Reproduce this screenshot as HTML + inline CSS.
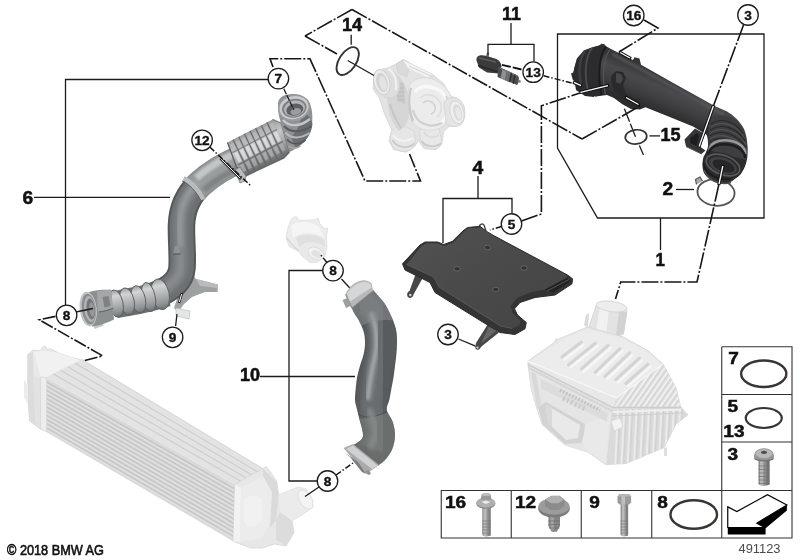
<!DOCTYPE html>
<html><head><meta charset="utf-8"><title>Diagram</title>
<style>
html,body{margin:0;padding:0;background:#fff;}
body{width:800px;height:560px;overflow:hidden;font-family:"Liberation Sans",sans-serif;}
svg{display:block;position:absolute;left:0;top:0;}
svg text{font-family:"Liberation Sans",sans-serif;}
#labels,#table{opacity:.999;}
.ln{fill:none;stroke:#1c1c1c;stroke-width:1.3;}
.dd{fill:none;stroke:#161616;stroke-width:1.6;stroke-dasharray:17 2 2 2;}
.ds{fill:none;stroke:#161616;stroke-width:1.5;stroke-dasharray:6 2 1.5 2;}
.cb{fill:#fff;stroke:#1c1c1c;stroke-width:1.3;}
.ct{font-weight:bold;font-size:13px;text-anchor:middle;fill:#111;stroke:#111;stroke-width:.35;}
.lb{font-weight:bold;font-size:17.5px;fill:#111;stroke:#111;stroke-width:.5;}
.tb{font-weight:bold;font-size:16.5px;fill:#111;stroke:#111;stroke-width:.5;}
.tl{fill:none;stroke:#333;stroke-width:1.1;}
</style></head>
<body>
<svg width="800" height="560" viewBox="0 0 800 560">
<!-- defs -->
<defs>
<linearGradient id="gPlate" x1="0" y1="0" x2="1" y2="1">
<stop offset="0" stop-color="#525253"/><stop offset=".45" stop-color="#4a4a4b"/><stop offset="1" stop-color="#444445"/>
</linearGradient>
<linearGradient id="gPipe1" gradientUnits="userSpaceOnUse" x1="660" y1="75" x2="646" y2="108">
<stop offset="0" stop-color="#353537"/><stop offset=".3" stop-color="#4a4a4d"/><stop offset=".6" stop-color="#404043"/><stop offset="1" stop-color="#2c2c2e"/>
</linearGradient>
<linearGradient id="gRes" gradientUnits="userSpaceOnUse" x1="250" y1="131" x2="266" y2="164">
<stop offset="0" stop-color="#9a9d9e"/><stop offset=".35" stop-color="#c6c8c9"/><stop offset=".7" stop-color="#9da0a1"/><stop offset="1" stop-color="#6d7071"/>
</linearGradient>
<linearGradient id="gBel" gradientUnits="userSpaceOnUse" x1="135" y1="286" x2="142" y2="312">
<stop offset="0" stop-color="#8e9293"/><stop offset=".35" stop-color="#c4c6c7"/><stop offset=".7" stop-color="#9a9e9f"/><stop offset="1" stop-color="#6c7071"/>
</linearGradient>
<radialGradient id="gIC" cx=".3" cy=".3" r=".9">
<stop offset="0" stop-color="#f2f2f2"/><stop offset="1" stop-color="#d9d9d9"/>
</radialGradient>
<filter id="blur1"><feGaussianBlur stdDeviation="1"/></filter>
<filter id="blur2"><feGaussianBlur stdDeviation="2"/></filter>
<filter id="blur05"><feGaussianBlur stdDeviation="0.5"/></filter>
<linearGradient id="gBelR" x1="0" y1="0" x2="0" y2="1">
<stop offset="0" stop-color="#9a9d9e"/><stop offset=".22" stop-color="#d2d4d5"/><stop offset=".5" stop-color="#b4b7b8"/><stop offset=".8" stop-color="#909495"/><stop offset="1" stop-color="#6a6e70"/>
</linearGradient>
</defs>

<!-- light -->
<g id="light">
<g id="intercooler">
<path d="M27.8,354.6 L33,350 L40.5,350.7 L43.5,346.5 L46,346.5 L47,349.5 L50.4,348.7 L58,352.7 L72,357.6 L82,360 L47,378 L47,431 L40.5,429 L29.7,421 L27.8,400 Z" fill="#e9e9e9" stroke="#d4d4d4" stroke-width=".8"/>
<path d="M27.8,354.6 L33,352 L34,395 L37,420 L40.5,429 L29.7,421 L27.8,400 Z" fill="#dcdcdc"/>
<path d="M34,352 L40.5,350.7 L58,352.7 L80,360.3 L46.4,377 L40.5,377 Z" fill="#f1f1f1"/>
<path d="M33.5,376 L40.5,377 L40.5,429 L35,424 Z" fill="#e2e2e2"/>
<path d="M28,385 l-4,-5 l0,18 l4,6z" fill="#ececec"/>
<path d="M46.4,377.5 L82,359.5 L263,468.7 L235.4,484.4 Z" fill="#e3e3e3"/>
<path d="M74.9,363.1 L257.5,471.8" stroke="#cecece" stroke-width="1.2" fill="none"/>
<path d="M67.8,366.7 L252.0,475.0" stroke="#cecece" stroke-width="1.2" fill="none"/>
<path d="M60.6,370.3 L246.4,478.1" stroke="#cecece" stroke-width="1.2" fill="none"/>
<path d="M53.5,373.9 L240.9,481.3" stroke="#cecece" stroke-width="1.2" fill="none"/>
<path d="M82,359.5 L263,468.7" stroke="#d6d6d6" stroke-width="1" fill="none"/>
<path d="M46.4,377.8 L235.4,484.6 L233.5,541.5 L46.4,432 Z" fill="#dadada"/>
<path d="M46.4,382.0 L234.5,489.0" stroke="#c6c6c6" stroke-width="1.5" fill="none"/>
<path d="M46.4,383.6 L234.5,490.6" stroke="#e4e4e4" stroke-width="1" fill="none"/>
<path d="M46.4,386.1 L234.5,493.4" stroke="#c6c6c6" stroke-width="1.5" fill="none"/>
<path d="M46.4,387.7 L234.5,495.0" stroke="#e4e4e4" stroke-width="1" fill="none"/>
<path d="M46.4,390.3 L234.5,497.7" stroke="#c6c6c6" stroke-width="1.5" fill="none"/>
<path d="M46.4,391.9 L234.5,499.3" stroke="#e4e4e4" stroke-width="1" fill="none"/>
<path d="M46.4,394.5 L234.5,502.1" stroke="#c6c6c6" stroke-width="1.5" fill="none"/>
<path d="M46.4,396.1 L234.5,503.7" stroke="#e4e4e4" stroke-width="1" fill="none"/>
<path d="M46.4,398.6 L234.5,506.5" stroke="#c6c6c6" stroke-width="1.5" fill="none"/>
<path d="M46.4,400.2 L234.5,508.1" stroke="#e4e4e4" stroke-width="1" fill="none"/>
<path d="M46.4,402.8 L234.5,510.9" stroke="#c6c6c6" stroke-width="1.5" fill="none"/>
<path d="M46.4,404.4 L234.5,512.5" stroke="#e4e4e4" stroke-width="1" fill="none"/>
<path d="M46.4,407.0 L234.5,515.2" stroke="#c6c6c6" stroke-width="1.5" fill="none"/>
<path d="M46.4,408.6 L234.5,516.8" stroke="#e4e4e4" stroke-width="1" fill="none"/>
<path d="M46.4,411.2 L234.5,519.6" stroke="#c6c6c6" stroke-width="1.5" fill="none"/>
<path d="M46.4,412.8 L234.5,521.2" stroke="#e4e4e4" stroke-width="1" fill="none"/>
<path d="M46.4,415.3 L234.5,524.0" stroke="#c6c6c6" stroke-width="1.5" fill="none"/>
<path d="M46.4,416.9 L234.5,525.6" stroke="#e4e4e4" stroke-width="1" fill="none"/>
<path d="M46.4,419.5 L234.5,528.4" stroke="#c6c6c6" stroke-width="1.5" fill="none"/>
<path d="M46.4,421.1 L234.5,530.0" stroke="#e4e4e4" stroke-width="1" fill="none"/>
<path d="M46.4,423.7 L234.5,532.7" stroke="#c6c6c6" stroke-width="1.5" fill="none"/>
<path d="M46.4,425.3 L234.5,534.3" stroke="#e4e4e4" stroke-width="1" fill="none"/>
<path d="M46.4,427.8 L234.5,537.1" stroke="#c6c6c6" stroke-width="1.5" fill="none"/>
<path d="M46.4,429.4 L234.5,538.7" stroke="#e4e4e4" stroke-width="1" fill="none"/>
<path d="M40.5,377 L46.6,377.6 L46.6,432 L40.5,429 Z" fill="#ededed" stroke="#d2d2d2" stroke-width=".6"/>
<path d="M46.4,377.8 L235.4,484.6" stroke="#e6e6e6" stroke-width="1" fill="none"/>
<path d="M235,484 L263,468.7 L266,466.5 L269,470 L276.6,481.4 L278.6,495 L298,487 L306,489 L312,500 L313,507 L302,515 L292,520.7 L294,532.5 L286,546 L274.7,544 L262,548 L251,548 L233.4,541.5 Z" fill="#e7e7e7" stroke="#d6d6d6" stroke-width=".8"/>
<path d="M235,484.5 L241,488 L240,542 L233.4,541.5 Z" fill="#f2f2f2"/>
<path d="M241,488 L263,476 L272,492 L272,520 L262,538 L240,542 Z" fill="#ececec"/>
<path d="M263,469 L276.6,481.4 L278.6,495 L276,520 L270,528 L272,492 L263,476 Z" fill="#dadada"/>
<path d="M278.6,495 L298,487 L306,489 L312,500 L313,507 L302,515 L292,520.7 L280,512 Z" fill="#ebebeb"/>
<ellipse cx="305.5" cy="499.5" rx="6" ry="10.5" transform="rotate(-32 305.5 499.5)" fill="#f4f4f4" stroke="#dcdcdc" stroke-width=".8"/>
<path d="M280,512 L292,520.7 L294,532.5 L286,546 L276,540 L276,520 Z" fill="#dcdcdc"/>
<path d="M244,500 C250,494 258,494 262,500 L262,520 C256,528 248,528 244,522 Z" fill="#f3f3f3" opacity=".8"/>
</g>
<g id="airbox">
<clipPath id="cpSlope"><path d="M616.5,398 L663,364 L676,388 L680.8,407.5 L613,407.5 Z"/></clipPath>
<clipPath id="cpBaseR"><path d="M612,410 L680,407 L687.8,415 L676,424 L664,447.6 L626,463.5 L606,464.5 Z"/></clipPath>
<path d="M596,306 C596,301 628,304 627,312 L623.5,334 C612,340 594,336 589,327 Z" fill="#e3e3e3" stroke="#d0d0d0" stroke-width=".8"/>
<path d="M600,307 L596,330 L606,335 L609,309 Z" fill="#f1f1f1"/>
<path d="M619,312 L616,336 L623.5,334 L627,312 Z" fill="#d2d2d2"/>
<ellipse cx="611.5" cy="306.5" rx="15.5" ry="5.2" transform="rotate(8 611.5 306.5)" fill="#ededed" stroke="#d2d2d2" stroke-width=".8"/>
<path d="M589,313 l-3,2 l-2,10 l4,3 z" fill="#dadada"/>
<path d="M528,364 L531,388 L537,409 L542.5,425 L565,445 L587.6,452 L605.6,464.5 L626,463.5 L664,447.6 L676,424 L687.8,415 L680,406 L613,407.5 Z" fill="#e2e2e2" stroke="#d2d2d2" stroke-width=".8"/>
<path d="M612,410 L680,407 L687.8,415 L676,424 L664,447.6 L626,463.5 L606,464.5 Z" fill="#dadada"/>
<g clip-path="url(#cpBaseR)">
<path d="M618.0,409 L615.0,470" stroke="#ebebeb" stroke-width="2" fill="none"/>
<path d="M620.2,409 L617.2,470" stroke="#cfcfcf" stroke-width="1" fill="none"/>
<path d="M624.2,409 L621.2,470" stroke="#ebebeb" stroke-width="2" fill="none"/>
<path d="M626.4,409 L623.4,470" stroke="#cfcfcf" stroke-width="1" fill="none"/>
<path d="M630.4,409 L627.4,470" stroke="#ebebeb" stroke-width="2" fill="none"/>
<path d="M632.6,409 L629.6,470" stroke="#cfcfcf" stroke-width="1" fill="none"/>
<path d="M636.6,409 L633.6,470" stroke="#ebebeb" stroke-width="2" fill="none"/>
<path d="M638.8,409 L635.8,470" stroke="#cfcfcf" stroke-width="1" fill="none"/>
<path d="M642.8,409 L639.8,470" stroke="#ebebeb" stroke-width="2" fill="none"/>
<path d="M645.0,409 L642.0,470" stroke="#cfcfcf" stroke-width="1" fill="none"/>
<path d="M649.0,409 L646.0,470" stroke="#ebebeb" stroke-width="2" fill="none"/>
<path d="M651.2,409 L648.2,470" stroke="#cfcfcf" stroke-width="1" fill="none"/>
<path d="M655.2,409 L652.2,470" stroke="#ebebeb" stroke-width="2" fill="none"/>
<path d="M657.4,409 L654.4,470" stroke="#cfcfcf" stroke-width="1" fill="none"/>
<path d="M661.4,409 L658.4,470" stroke="#ebebeb" stroke-width="2" fill="none"/>
<path d="M663.6,409 L660.6,470" stroke="#cfcfcf" stroke-width="1" fill="none"/>
<path d="M667.6,409 L664.6,470" stroke="#ebebeb" stroke-width="2" fill="none"/>
<path d="M669.8,409 L666.8,470" stroke="#cfcfcf" stroke-width="1" fill="none"/>
<path d="M673.8,409 L670.8,470" stroke="#ebebeb" stroke-width="2" fill="none"/>
<path d="M676.0,409 L673.0,470" stroke="#cfcfcf" stroke-width="1" fill="none"/>
<path d="M680.0,409 L677.0,470" stroke="#ebebeb" stroke-width="2" fill="none"/>
<path d="M682.2,409 L679.2,470" stroke="#cfcfcf" stroke-width="1" fill="none"/>
</g>
<path d="M613,412 L681,409.5" stroke="#f0f0f0" stroke-width="2.2" fill="none"/>
<path d="M612,416 L682,413" stroke="#cecece" stroke-width="1" fill="none"/>
<path d="M529,368 L612,411.5 L606,464 L587.6,452 L565,445 L542.5,425 L537,409 L531,388 Z" fill="#e5e5e5"/>
<path d="M538,407 L546,402 L585,424 L584,437 L581,443 L565,444 L542.5,424 Z" fill="#d3d3d3"/>
<path d="M546,405 L580,425 L578,438 L566,440 L548,423 Z" fill="#e9e9e9"/>
<path d="M546,405 L552,409 L552,427 L548,423 Z" fill="#d9d9d9"/>
<path d="M531,372 L536,374 L541,404 L537,408 Z" fill="#d8d8d8"/>
<path d="M586,424 L610,415 L606,464 L587.6,452 L582,442 Z" fill="#e9e9e9"/>
<path d="M611,421 l9,-3 l3,9 l-9,4z" fill="#f3f3f3" stroke="#d4d4d4" stroke-width=".7"/>
<path d="M541,379 L608,413 L607,422 L541,388 Z" fill="#dcdcdc"/>
<path d="M560,390 L600,410" stroke="#c2c2c2" stroke-width="3.4" stroke-dasharray="1.6 1.8" fill="none"/>
<path d="M563,398 L585,409" stroke="#cacaca" stroke-width="5" stroke-dasharray="2 2.4" fill="none"/>
<path d="M528,361 L560,338.4 L587.5,327 L623,336.8 L648.6,351 L663,364 L676,388 L680.8,407.5 L613,407.5 L528,364.5 Z" fill="#e8e8e8" stroke="#d3d3d3" stroke-width=".8"/>
<path d="M531,361 L561,340 L588,329.5 L622,338.5 L647,352.5 L661,364.5 L616.5,397 Z" fill="#ececec"/>
<path d="M616.5,398 L663,364 L676,388 L680.8,407.5 L613,407.5 Z" fill="#dddddd"/>
<g clip-path="url(#cpSlope)">
<path d="M648.0,360.0 L612.0,412.0" stroke="#f0f0f0" stroke-width="2" fill="none"/>
<path d="M650.0,360.0 L614.0,412.0" stroke="#cfcfcf" stroke-width=".9" fill="none"/>
<path d="M653.6,360.0 L617.6,412.0" stroke="#f0f0f0" stroke-width="2" fill="none"/>
<path d="M655.6,360.0 L619.6,412.0" stroke="#cfcfcf" stroke-width=".9" fill="none"/>
<path d="M659.2,360.0 L623.2,412.0" stroke="#f0f0f0" stroke-width="2" fill="none"/>
<path d="M661.2,360.0 L625.2,412.0" stroke="#cfcfcf" stroke-width=".9" fill="none"/>
<path d="M664.8,360.0 L628.8,412.0" stroke="#f0f0f0" stroke-width="2" fill="none"/>
<path d="M666.8,360.0 L630.8,412.0" stroke="#cfcfcf" stroke-width=".9" fill="none"/>
<path d="M670.4,360.0 L634.4,412.0" stroke="#f0f0f0" stroke-width="2" fill="none"/>
<path d="M672.4,360.0 L636.4,412.0" stroke="#cfcfcf" stroke-width=".9" fill="none"/>
<path d="M676.0,360.0 L640.0,412.0" stroke="#f0f0f0" stroke-width="2" fill="none"/>
<path d="M678.0,360.0 L642.0,412.0" stroke="#cfcfcf" stroke-width=".9" fill="none"/>
<path d="M681.6,360.0 L645.6,412.0" stroke="#f0f0f0" stroke-width="2" fill="none"/>
<path d="M683.6,360.0 L647.6,412.0" stroke="#cfcfcf" stroke-width=".9" fill="none"/>
<path d="M687.2,360.0 L651.2,412.0" stroke="#f0f0f0" stroke-width="2" fill="none"/>
<path d="M689.2,360.0 L653.2,412.0" stroke="#cfcfcf" stroke-width=".9" fill="none"/>
<path d="M692.8,360.0 L656.8,412.0" stroke="#f0f0f0" stroke-width="2" fill="none"/>
<path d="M694.8,360.0 L658.8,412.0" stroke="#cfcfcf" stroke-width=".9" fill="none"/>
<path d="M698.4,360.0 L662.4,412.0" stroke="#f0f0f0" stroke-width="2" fill="none"/>
<path d="M700.4,360.0 L664.4,412.0" stroke="#cfcfcf" stroke-width=".9" fill="none"/>
<path d="M704.0,360.0 L668.0,412.0" stroke="#f0f0f0" stroke-width="2" fill="none"/>
<path d="M706.0,360.0 L670.0,412.0" stroke="#cfcfcf" stroke-width=".9" fill="none"/>
<path d="M709.6,360.0 L673.6,412.0" stroke="#f0f0f0" stroke-width="2" fill="none"/>
<path d="M711.6,360.0 L675.6,412.0" stroke="#cfcfcf" stroke-width=".9" fill="none"/>
</g>
<path d="M581.4,342.1 L562.0,357.0" stroke="#d4d4d4" stroke-width="3.2" fill="none" stroke-linecap="round"/>
<path d="M583.6,344.7 L564.2,359.6" stroke="#f6f6f6" stroke-width="2.6" fill="none" stroke-linecap="round"/>
<path d="M595.4,343.2 L568.6,364.7" stroke="#d4d4d4" stroke-width="3.2" fill="none" stroke-linecap="round"/>
<path d="M597.6,345.8 L570.8,367.3" stroke="#f6f6f6" stroke-width="2.6" fill="none" stroke-linecap="round"/>
<path d="M608.2,345.4 L581.4,368.9" stroke="#d4d4d4" stroke-width="3.2" fill="none" stroke-linecap="round"/>
<path d="M610.4,348.0 L583.6,371.5" stroke="#f6f6f6" stroke-width="2.6" fill="none" stroke-linecap="round"/>
<path d="M620.0,348.6 L595.4,372.2" stroke="#d4d4d4" stroke-width="3.2" fill="none" stroke-linecap="round"/>
<path d="M622.2,351.2 L597.6,374.8" stroke="#f6f6f6" stroke-width="2.6" fill="none" stroke-linecap="round"/>
<path d="M629.7,352.9 L605.0,376.4" stroke="#d4d4d4" stroke-width="3.2" fill="none" stroke-linecap="round"/>
<path d="M631.9,355.5 L607.2,379.0" stroke="#f6f6f6" stroke-width="2.6" fill="none" stroke-linecap="round"/>
<path d="M639.3,358.2 L615.7,379.7" stroke="#d4d4d4" stroke-width="3.2" fill="none" stroke-linecap="round"/>
<path d="M641.5,360.8 L617.9,382.3" stroke="#f6f6f6" stroke-width="2.6" fill="none" stroke-linecap="round"/>
<path d="M648.0,364.0 L626.0,383.5" stroke="#d4d4d4" stroke-width="3.2" fill="none" stroke-linecap="round"/>
<path d="M650.2,366.6 L628.2,386.1" stroke="#f6f6f6" stroke-width="2.6" fill="none" stroke-linecap="round"/>
<path d="M553,343 l3,-5 l3,1 l-1,5 z" fill="#e3e3e3"/>
<path d="M528,364.5 L613,407.5 L680.8,407.5" stroke="#cccccc" stroke-width="1.3" fill="none"/>
<path d="M529,368 L612,411" stroke="#d6d6d6" stroke-width="2.2" fill="none"/>
<path d="M528,361 L616.5,398 L663,364" stroke="#f6f6f6" stroke-width="1.4" fill="none"/>
<path d="M664,448 l0,8 l3,0 l0,-9z" fill="#e0e0e0"/>
</g>
<g id="turbo">
<path d="M374,76.4 L383,70 L396,64 L403.4,59.5 L409.6,63 L433,74.6 L443.6,83.6 L450.7,96 L458,98.8 L464,106.8 L463,117.5 L458,125.5 L449,126.4 L443.6,131.8 L441.8,144.3 L436.4,149.6 L424,148.8 L418.6,140.7 L415,146 L406,152.3 L393.6,149.6 L389,140.7 L391.8,130 L384.6,114 L379.3,97.9 L373,89 Z" fill="#e3e3e3" stroke="#d4d4d4" stroke-width=".8" stroke-linejoin="round"/>
<path d="M392,130 C388,138 390,148 400,151 C409,153 415.5,148 415.5,141 L414,131 L400,124 Z" fill="#e6e6e6" stroke="#d2d2d2" stroke-width=".7"/>
<path d="M392.5,140 C396,147 407,150 414.5,143.5" fill="none" stroke="#cbcbcb" stroke-width="1.8"/>
<path d="M393,135 C397,141 406,143 413,138" fill="none" stroke="#f4f4f4" stroke-width="1.8"/>
<path d="M420,130 C419,139 422,146 430,149 C437,150 441.5,146 441.5,140 L439,128 L428,125 Z" fill="#e8e8e8" stroke="#d2d2d2" stroke-width=".7"/>
<path d="M421.5,141 C426,147 435,148 441,143.5" fill="none" stroke="#c9c9c9" stroke-width="1.8"/>
<path d="M424,132 C426,137 434,139 439,135" fill="none" stroke="#d8d8d8" stroke-width="1.4"/>
<path d="M394,72 C402,76 409,90 410,104 C410,118 406,128 399,131 C392,124 388,112 387,98 C386,86 389,76 394,72 Z" fill="#d6d6d6"/>
<path d="M396,80 l8,4 l1,20 l-8,-3 z" fill="#cacaca"/>
<path d="M397,84 h6.5 M397,88 h7 M397.5,92 h7 M397.5,96 h7 M398,100 h7" stroke="#b9b9b9" stroke-width=".9"/>
<path d="M390,104 C393,114 397,122 401,128" fill="none" stroke="#c6c6c6" stroke-width="2"/>
<path d="M410,84 C420,72 442,78 450,94 C456,106 452,120 442,127 C432,133 417,131 412,121 C408,110 406,94 410,84 Z" fill="#ececec" stroke="#d6d6d6" stroke-width=".8"/>
<path d="M415,92 C423,82 440,87 446,98 C450,107 448,116 442,122" fill="none" stroke="#f8f8f8" stroke-width="3.4"/>
<path d="M413,110 C416,124 430,129 442,123" fill="none" stroke="#d0d0d0" stroke-width="2.2"/>
<path d="M420,98 C426,92 436,95 440,102 C443,108 441,114 437,117" fill="none" stroke="#dedede" stroke-width="1.6"/>
<path d="M411,88 C408,98 409,112 413,121" fill="none" stroke="#c9c9c9" stroke-width="2.2"/>
<path d="M423,103 C427,99 433,101 435,106 C436,110 434,113 431,114" fill="none" stroke="#cfcfcf" stroke-width="1.4"/>
<path d="M446,96 C451,104 451,114 446,122" fill="none" stroke="#d0d0d0" stroke-width="1.6"/>
<path d="M396,64 L403.4,59.5 L409.6,63 L407,77 L398,73 Z" fill="#dadada" stroke="#cfcfcf" stroke-width=".6"/>
<path d="M403.5,60.5 L432,74.5 L428,77.5 L408,68 Z" fill="#f3f3f3"/>
<path d="M409,66 L433,77" stroke="#d2d2d2" stroke-width="1" fill="none"/>
<path d="M444,103 C446,96 456,96 461,101 C466,107 466,118 462,123.5 C458,128 450,127.5 446,123 Z" fill="#e4e4e4" stroke="#d2d2d2" stroke-width=".8"/>
<ellipse cx="457" cy="112.3" rx="6.8" ry="11.6" transform="rotate(-14 457 112.3)" fill="#f0f0f0" stroke="#d4d4d4" stroke-width=".9"/>
<ellipse cx="457.6" cy="112.5" rx="4.4" ry="8.6" transform="rotate(-14 457.6 112.5)" fill="#dcdcdc"/>
<ellipse cx="458.4" cy="113" rx="2.6" ry="6" transform="rotate(-14 458.4 113)" fill="#e9e9e9"/>
<path d="M381,69.5 C388,66.5 397,71 399,80 C401,89 398,96 392,98 L384,97 Z" fill="#dedede" stroke="#d2d2d2" stroke-width=".6"/>
<path d="M388,69 C394,72 397,80 396,90" fill="none" stroke="#f2f2f2" stroke-width="2"/>
<ellipse cx="381.8" cy="82.2" rx="8" ry="12.8" transform="rotate(-14 381.8 82.2)" fill="#ebebeb" stroke="#d0d0d0" stroke-width="1"/>
<ellipse cx="382" cy="82.5" rx="5.6" ry="10" transform="rotate(-14 382 82.5)" fill="#d4d4d4"/>
<ellipse cx="383" cy="83.2" rx="3.4" ry="7.4" transform="rotate(-14 383 83.2)" fill="#e4e4e4"/>
</g>
<g id="valve">
<path d="M286,238.6 L287.7,229 L291,219.3 L295.7,216 L300,220.5 L313.4,220 L318.2,218.5 L320,224 L324.7,229 L327.9,228 L326.3,237 L327,246.6 L324.7,256.3 L318.2,262 L310.2,262.7 L302,256.3 L299,251.4 L289.3,246.6 Z" fill="#ececec" stroke="#dddddd" stroke-width=".8" stroke-linejoin="round"/>
<path d="M291,226 C296,220 312,221 320,228 L324,238 C316,232 300,231 293,238 Z" fill="#f5f5f5"/>
<path d="M296,238 C302,232 318,234 324.5,240 L325.5,248 C320,242 306,240 299,247 Z" fill="#e0e0e0"/>
<path d="M299,247 C306,240 320,242 325.5,248 L324,256 L318,261.5 L310.5,262 L302.5,256 Z" fill="#e9e9e9"/>
<ellipse cx="316" cy="253.5" rx="8.6" ry="5.6" transform="rotate(28 316 253.5)" fill="#f3f3f3" stroke="#d8d8d8" stroke-width=".8"/>
<ellipse cx="316.5" cy="254" rx="5.6" ry="3.4" transform="rotate(28 316.5 254)" fill="#e2e2e2"/>
<path d="M287,238 C289,242 293,246 299,251" stroke="#d6d6d6" stroke-width="1.4" fill="none"/>
</g>
</g>

<!-- dark -->
<g id="dark">
<!-- ============ PIPE 6 ============ -->
<g id="pipe6" fill="none" stroke-linecap="butt" stroke-linejoin="round">
<!-- foot bracket -->
<path d="M190,272 L196,279 L218,284.5 L217.5,292 L205,292 L192,297 L184,304 L178,312 L174,308 L178,296 Z" fill="#9da1a2" stroke="none"/>
<path d="M196,279 L218,284.5 L217.5,288 L200,286 Z" fill="#b9bcbd" stroke="none"/>
<path d="M176,308 L190,311 L189,319 L176,316 Z" fill="#e4e5e5" stroke="#b5b7b8" stroke-width=".6"/>
<!-- main tube -->
<path id="p6c" d="M243,158 C228,164 212,173 200,184 C188,195 182,208 181.5,225 C181,240 183,255 182,268 C181,282 168,291 150,297" stroke="#54585a" stroke-width="27.5"/>
<path d="M243,158 C228,164 212,173 200,184 C188,195 182,208 181.5,225 C181,240 183,255 182,268 C181,282 168,291 150,297" stroke="#6c7071" stroke-width="23.5"/>
<path d="M242,156.5 C227,162.5 211,171.5 199,182.5 C187,193.5 180.5,207 180.2,224 C179.8,240 181.5,255 180.5,267.5 C179.5,280 167,289.5 149.5,295.5" stroke="#7d8182" stroke-width="13" filter="url(#blur2)"/>
<path d="M198,182 C186.5,193 180,206 179.8,222 C179.6,232 180,240 180.4,248" stroke="#999d9e" stroke-width="5" filter="url(#blur2)"/>
<path d="M180.3,252 C181,258 181.5,264 180,270 C178,280 168,287 156,292" stroke="#8a8e8f" stroke-width="5" filter="url(#blur2)"/>
<!-- upper lighter section -->
<path d="M243,158 C228,164 212,173 200,184 L193.5,190.5" stroke="#a3a7a8" stroke-width="27.5" opacity=".72"/>
<path d="M246,164.5 C231,170.5 216,179.5 204,190" stroke="#7b7f80" stroke-width="6" filter="url(#blur1)" opacity=".8"/>
<path d="M240,151.5 C225,157.5 209,166.5 196.5,178" stroke="#c6c9ca" stroke-width="7" filter="url(#blur1)" opacity=".95"/>
<!-- band -->
<path d="M183.5,178.5 C190,181 199,190 203,199.5" stroke="#b9bcbd" stroke-width="4.8"/>
<path d="M182,181 C188.5,183.5 197.5,192.5 201.5,202" stroke="#5a5e5f" stroke-width="1"/>
<!-- small bump -->
<path d="M173,254 l2,-8 l3.5,-.5 l2,8.5 z" fill="#8e9293" stroke="none"/><path d="M173,254 l7.5,0" stroke="#4a4e4f" stroke-width="1"/>
</g>
<!-- resonator -->
<g id="reson">
<path d="M227.5,142.5 L272.5,119.4 L281,123 L289.5,152 L284,158 L244.5,176.5 L236.5,167 Z" fill="url(#gRes)"/>
<path d="M234.2,153.4 L237.3,151.7 L241.8,161.2 L238.7,162.8 Z" fill="#e2e3e4" opacity=".75"/>
<path d="M230.0,144.6 L233.2,142.9 L236.2,149.4 L233.1,151.0 Z" fill="#b9bbbc" opacity=".7"/>
<path d="M239.9,165.5 L243.1,163.9 L246.3,170.6 L243.1,172.3 Z" fill="#b4b6b7" opacity=".6"/>
<path d="M239.8,150.4 L242.9,148.8 L247.4,158.2 L244.3,159.9 Z" fill="#e2e3e4" opacity=".75"/>
<path d="M235.6,141.7 L238.8,140.1 L241.8,146.5 L238.7,148.1 Z" fill="#b9bbbc" opacity=".7"/>
<path d="M245.5,162.6 L248.7,160.9 L251.9,167.7 L248.7,169.3 Z" fill="#b4b6b7" opacity=".6"/>
<path d="M245.4,147.5 L248.6,145.9 L253.0,155.3 L249.9,156.9 Z" fill="#e2e3e4" opacity=".75"/>
<path d="M241.3,138.8 L244.4,137.2 L247.4,143.5 L244.3,145.2 Z" fill="#b9bbbc" opacity=".7"/>
<path d="M251.1,159.6 L254.3,158.0 L257.5,164.7 L254.3,166.4 Z" fill="#b4b6b7" opacity=".6"/>
<path d="M251.0,144.6 L254.2,143.0 L258.6,152.4 L255.5,154.0 Z" fill="#e2e3e4" opacity=".75"/>
<path d="M246.9,135.9 L250.0,134.3 L253.1,140.6 L249.9,142.3 Z" fill="#b9bbbc" opacity=".7"/>
<path d="M256.8,156.7 L259.9,155.0 L263.1,161.8 L259.9,163.4 Z" fill="#b4b6b7" opacity=".6"/>
<path d="M256.6,141.7 L259.8,140.1 L264.2,149.4 L261.1,151.1 Z" fill="#e2e3e4" opacity=".75"/>
<path d="M252.5,133.0 L255.7,131.4 L258.7,137.7 L255.5,139.4 Z" fill="#b9bbbc" opacity=".7"/>
<path d="M262.4,153.8 L265.5,152.1 L268.7,158.8 L265.5,160.4 Z" fill="#b4b6b7" opacity=".6"/>
<path d="M262.3,138.8 L265.4,137.2 L269.8,146.5 L266.7,148.1 Z" fill="#e2e3e4" opacity=".75"/>
<path d="M258.1,130.1 L261.3,128.5 L264.3,134.8 L261.1,136.4 Z" fill="#b9bbbc" opacity=".7"/>
<path d="M268.0,150.8 L271.1,149.2 L274.3,155.8 L271.1,157.5 Z" fill="#b4b6b7" opacity=".6"/>
<path d="M267.9,135.9 L271.0,134.2 L275.5,143.6 L272.3,145.2 Z" fill="#e2e3e4" opacity=".75"/>
<path d="M263.8,127.2 L266.9,125.6 L269.9,131.9 L266.8,133.5 Z" fill="#b9bbbc" opacity=".7"/>
<path d="M273.6,147.9 L276.7,146.2 L279.9,152.9 L276.7,154.5 Z" fill="#b4b6b7" opacity=".6"/>
<path d="M273.5,133.0 L276.6,131.3 L281.1,140.6 L277.9,142.3 Z" fill="#e2e3e4" opacity=".75"/>
<path d="M269.4,124.3 L272.5,122.7 L275.5,129.0 L272.4,130.6 Z" fill="#b9bbbc" opacity=".7"/>
<path d="M279.2,144.9 L282.3,143.3 L285.5,149.9 L282.4,151.6 Z" fill="#b4b6b7" opacity=".6"/>
<g stroke="#606364" stroke-width="1.3" opacity=".85">
<path d="M233.1,139.6 L249.1,173.3"/><path d="M238.8,136.7 L254.7,170.4"/><path d="M244.4,133.8 L260.3,167.4"/><path d="M250.0,130.9 L265.9,164.4"/><path d="M255.6,128.1 L271.5,161.5"/><path d="M261.2,125.2 L277.1,158.5"/><path d="M266.9,122.3 L282.7,155.6"/>
</g>
<path d="M232.3,152.6 L277.2,129.4" stroke="#6d7071" stroke-width="1.2" opacity=".75" fill="none"/>
<path d="M238.1,164.8 L282.9,141.3" stroke="#63666a" stroke-width="1.3" opacity=".75" fill="none"/>
<path d="M227.5,142.5 L236.5,167 L244.5,176.5" fill="none" stroke="#5a5d5e" stroke-width="1.3"/>
<path d="M244.5,176.5 L284,158 L289.5,152" fill="none" stroke="#55585a" stroke-width="1.4" opacity=".8"/>
<path d="M272.5,119.4 L281,123 L289.5,152" fill="none" stroke="#6a6d6e" stroke-width="1.2" opacity=".8"/>
</g>
<!-- elbow top connector -->
<g id="elbow">
<path d="M278,106 C277,97 285,93.5 294,94 C303,94.5 310,99 311,107 C313,114 313,124 310,133 C306,142 298,148 289.5,152 L281,123 C279,117 278,112 278,106 Z" fill="#8f9293"/>
<path d="M302,112 C307,114 311.5,118 312.5,124 C311.5,134 305,143 296,148 L291,137 C297,132 301,123 302,112 Z" fill="#6c6f71"/>
<path d="M283,120 C289,127 300,127 310,119" fill="none" stroke="#c4c6c7" stroke-width="2.4"/>
<path d="M284,126 C290,133 301,133 311.5,126" fill="none" stroke="#5a5d5f" stroke-width="2"/>
<path d="M285.5,132.5 C291,139 300,139 309.5,133" fill="none" stroke="#b6b8b9" stroke-width="2"/>
<path d="M287,139.5 C292,145 299,145 305.5,140" fill="none" stroke="#55585a" stroke-width="1.8"/>
<path d="M288.5,146 C292,149 297,149 300.5,146" fill="none" stroke="#a6a8a9" stroke-width="1.6"/>
<ellipse cx="294" cy="108" rx="16" ry="13" transform="rotate(-12 294 108)" fill="#9a9d9e"/>
<ellipse cx="294" cy="107.6" rx="14.6" ry="11.4" transform="rotate(-12 294 107.6)" fill="#c9cbcc"/>
<ellipse cx="294.3" cy="108.2" rx="12.4" ry="9.4" transform="rotate(-12 294.3 108.2)" fill="#7e8183"/>
<ellipse cx="294.5" cy="108.5" rx="10.6" ry="7.8" transform="rotate(-12 294.5 108.5)" fill="#b4b6b7"/>
<ellipse cx="294.8" cy="109.6" rx="8.6" ry="6" transform="rotate(-12 294.8 109.6)" fill="#5d6062"/>
<ellipse cx="295.8" cy="111.5" rx="5.4" ry="3.4" transform="rotate(-12 295.8 111.5)" fill="#9a9d9e"/>
</g>
<!-- clip at 12 -->
<path d="M235,170 l5,-3 l6,9 l-1,5 l-5,2 z" fill="#b9bbbc" stroke="#6d7071" stroke-width=".7"/>
<!-- bellows -->
<g id="bellows">
<path d="M165,280 L170.5,306 C156,311 137,315 118,318 L109,292 C126,288.5 148,284.5 165,280 Z" fill="#6a6e70"/>
<ellipse cx="160.3" cy="294.3" rx="8.8" ry="15.6" transform="rotate(-12 160.3 294.3)" fill="url(#gBelR)" stroke="#5c6062" stroke-width=".9"/>
<ellipse cx="148.6" cy="297" rx="6.6" ry="14.8" transform="rotate(-12 148.6 297)" fill="url(#gBelR)" stroke="#5c6062" stroke-width=".9"/>
<ellipse cx="138.3" cy="299.4" rx="7.1" ry="13.9" transform="rotate(-12 138.3 299.4)" fill="url(#gBelR)" stroke="#5c6062" stroke-width=".9"/>
<ellipse cx="127" cy="301.5" rx="7.2" ry="13.8" transform="rotate(-12 127 301.5)" fill="url(#gBelR)" stroke="#5c6062" stroke-width=".9"/>
<ellipse cx="116" cy="303.6" rx="7" ry="13.8" transform="rotate(-12 116 303.6)" fill="url(#gBelR)" stroke="#5c6062" stroke-width=".9"/>
</g>
<!-- end connector -->
<g id="conn8">
<path d="M92.6,324 l10,-2.5 l1,4 l-9,3.5 z" fill="#c4c6c7"/>
<path d="M89,292 C95,290 104,289.5 111,289.8 L114,319.5 C108,322.5 100,325.5 92,326.5 Z" fill="#8c9091"/>
<path d="M97,291.5 C102,290.5 107,290 111,289.8 L113,308 C108,310 102,311 98,311.5 Z" fill="#a4a7a8"/>
<path d="M102.5,297 l6,-1 l2,10 l-6,1.5 z" fill="#7e8283"/>
<path d="M99,312 C104,311.5 109,310 113.5,308" stroke="#5f6364" stroke-width="1" fill="none"/>
<ellipse cx="88.2" cy="309" rx="8.6" ry="17.3" transform="rotate(-7 88.2 309)" fill="#c1c3c4"/>
<ellipse cx="88.8" cy="309" rx="7" ry="15.4" transform="rotate(-7 88.8 309)" fill="#8a8e8f"/>
<ellipse cx="89.8" cy="309" rx="5.6" ry="13" transform="rotate(-7 89.8 309)" fill="#b0b3b4"/>
<ellipse cx="90.8" cy="309" rx="4.2" ry="10.6" transform="rotate(-7 90.8 309)" fill="#74787a"/>
<ellipse cx="92" cy="309.5" rx="2.6" ry="7.4" transform="rotate(-7 92 309.5)" fill="#94989a"/>
</g>

<!-- ============ HOSE 10 ============ -->
<g id="hose10">
<clipPath id="cpHose"><path d="M352.0,308.5 C352.5,309.5 353.9,312.6 355.0,314.5 C356.1,316.4 357.2,317.2 358.6,320.0 C360.0,322.8 362.5,327.6 363.6,331.4 C364.7,335.2 365.0,339.1 365.0,342.9 C365.0,346.7 364.4,350.5 363.6,354.3 C362.8,358.1 361.1,361.9 360.0,365.7 C358.9,369.5 357.8,373.2 357.1,377.0 C356.4,380.8 356.1,384.8 355.7,388.6 C355.3,392.4 354.9,396.9 355.0,400.0 C355.1,403.1 355.6,403.7 356.4,407.0 C357.2,410.3 358.5,415.7 359.6,420.0 C360.7,424.3 362.4,429.6 362.8,432.8 C363.2,436.0 363.4,437.0 361.8,439.0 C360.2,441.0 354.9,444.0 353.5,445.0 L378.5,465.5 C379.8,464.3 384.0,461.4 386.4,458.5 C388.8,455.6 391.4,451.7 392.8,447.8 C394.2,443.9 395.0,439.3 395.0,435.0 C395.0,430.7 394.2,426.2 392.8,422.0 C391.4,417.8 387.4,413.7 386.8,410.0 C386.2,406.3 388.5,403.6 389.3,400.0 C390.1,396.4 390.7,392.4 391.4,388.6 C392.1,384.8 393.0,380.8 393.6,377.0 C394.2,373.2 394.5,369.5 395.0,365.7 C395.5,361.9 396.1,358.1 396.4,354.3 C396.7,350.5 397.0,346.7 397.0,342.9 C397.0,339.1 397.1,335.2 396.4,331.4 C395.7,327.6 394.6,324.3 392.9,320.0 C391.2,315.7 388.1,309.4 386.0,305.7 C383.9,302.0 382.2,300.6 380.0,298.0 C377.8,295.4 374.2,291.3 373.0,290.0 Z"/></clipPath>
<path d="M352.0,308.5 C352.5,309.5 353.9,312.6 355.0,314.5 C356.1,316.4 357.2,317.2 358.6,320.0 C360.0,322.8 362.5,327.6 363.6,331.4 C364.7,335.2 365.0,339.1 365.0,342.9 C365.0,346.7 364.4,350.5 363.6,354.3 C362.8,358.1 361.1,361.9 360.0,365.7 C358.9,369.5 357.8,373.2 357.1,377.0 C356.4,380.8 356.1,384.8 355.7,388.6 C355.3,392.4 354.9,396.9 355.0,400.0 C355.1,403.1 355.6,403.7 356.4,407.0 C357.2,410.3 358.5,415.7 359.6,420.0 C360.7,424.3 362.4,429.6 362.8,432.8 C363.2,436.0 363.4,437.0 361.8,439.0 C360.2,441.0 354.9,444.0 353.5,445.0 L378.5,465.5 C379.8,464.3 384.0,461.4 386.4,458.5 C388.8,455.6 391.4,451.7 392.8,447.8 C394.2,443.9 395.0,439.3 395.0,435.0 C395.0,430.7 394.2,426.2 392.8,422.0 C391.4,417.8 387.4,413.7 386.8,410.0 C386.2,406.3 388.5,403.6 389.3,400.0 C390.1,396.4 390.7,392.4 391.4,388.6 C392.1,384.8 393.0,380.8 393.6,377.0 C394.2,373.2 394.5,369.5 395.0,365.7 C395.5,361.9 396.1,358.1 396.4,354.3 C396.7,350.5 397.0,346.7 397.0,342.9 C397.0,339.1 397.1,335.2 396.4,331.4 C395.7,327.6 394.6,324.3 392.9,320.0 C391.2,315.7 388.1,309.4 386.0,305.7 C383.9,302.0 382.2,300.6 380.0,298.0 C377.8,295.4 374.2,291.3 373.0,290.0 Z" fill="#55595a"/>
<g clip-path="url(#cpHose)" fill="none">
<path d="M362.5,299.2 C364.7,301.5 372.8,308.1 375.8,313.0 C378.7,317.9 379.1,323.4 380.0,328.4 C380.9,333.4 381.0,338.6 381.0,342.9 C381.0,347.2 380.6,350.5 380.0,354.3 C379.4,358.1 378.3,361.9 377.5,365.7 C376.7,369.5 376.0,373.2 375.4,377.0 C374.7,380.8 374.1,384.8 373.5,388.6 C373.0,392.4 372.5,396.7 372.1,400.0 C371.8,403.3 370.9,405.0 371.6,408.5 C372.3,412.0 375.0,416.8 376.2,421.0 C377.4,425.2 379.4,429.3 378.9,433.9 C378.4,438.5 374.0,446.1 373.0,448.5" stroke="#63676844" stroke-width="30"/>
<path d="M362.5,299.2 C364.7,301.5 372.8,308.1 375.8,313.0 C378.7,317.9 379.1,323.4 380.0,328.4 C380.9,333.4 381.0,338.6 381.0,342.9 C381.0,347.2 380.6,350.5 380.0,354.3 C379.4,358.1 378.3,361.9 377.5,365.7 C376.7,369.5 376.0,373.2 375.4,377.0 C374.7,380.8 374.1,384.8 373.5,388.6 C373.0,392.4 372.5,396.7 372.1,400.0 C371.8,403.3 370.9,405.0 371.6,408.5 C372.3,412.0 375.0,416.8 376.2,421.0 C377.4,425.2 379.4,429.3 378.9,433.9 C378.4,438.5 374.0,446.1 373.0,448.5" stroke="#696d6e" stroke-width="22" filter="url(#blur2)"/>
<path d="M371.2,312.5 C372.0,315.1 374.6,322.9 375.5,327.9 C376.4,332.9 376.5,338.1 376.5,342.4 C376.5,346.7 376.1,350.0 375.5,353.8 C374.9,357.6 373.8,361.4 373.0,365.2 C372.2,369.0 371.5,372.7 370.9,376.5 C370.2,380.3 369.6,384.3 369.0,388.1 C368.5,391.9 367.9,397.6 367.6,399.5" stroke="#8f9394" stroke-width="7" filter="url(#blur2)"/>
<path d="M371.2,312.5 C372.0,315.1 374.6,322.9 375.5,327.9 C376.4,332.9 376.5,338.1 376.5,342.4 C376.5,346.7 376.1,350.0 375.5,353.8 C374.9,357.6 373.8,361.4 373.0,365.2 C372.2,369.0 371.5,372.7 370.9,376.5 C370.2,380.3 369.6,384.3 369.0,388.1 C368.5,391.9 367.9,397.6 367.6,399.5" stroke="#a4a8a9" stroke-width="2.5" filter="url(#blur1)"/>
<!-- upper lighter section -->
<path d="M340,285 L400,285 L400,322 C388,318 372,320 356,328 Z" fill="#8a8e8f" opacity=".5"/>
<!-- lower lighter section -->
<path d="M345,414.5 C360,422.5 378,418.5 400,406.5 L400,480 L340,480 Z" fill="#8a8e8a" opacity=".38"/>
<path d="M357,414 C366,419 378,417 387.5,411" stroke="#4a4e4f" stroke-width="1" opacity=".7"/>
<path d="M368.6,408.5 C369.4,410.6 372.0,416.8 373.2,421.0 C374.4,425.2 376.4,429.3 375.9,433.9 C375.4,438.5 371.0,446.1 370.0,448.5" stroke="#858a8b" stroke-width="6" filter="url(#blur2)"/>
<!-- right edge shadow -->
</g>
<!-- top band -->
<path d="M345.7,294.3 C348,286 358,280 364.5,280.3 C368,280.5 370.5,282 371.6,283.6 L373,290 L372.5,291.6 L352,308.2 Z" fill="#b6b9ba"/>
<path d="M347,294 C350,287 358.5,282 364.5,282 C367.5,282 369.5,283 370.5,284.5 L371.5,287.5 L349.5,302 Z" fill="#d4d6d7"/>
<path d="M345.7,294.3 L352,308.2" stroke="#8e9192" stroke-width="1.4" fill="none"/>
<path d="M352,308.2 L372.5,291.6" stroke="#7c8081" stroke-width="1.2" fill="none"/>
<path d="M342.5,300 l5,-2 l3,8 l-4.5,2 z" fill="#9c9fa0"/>
<!-- bottom clamp -->
<path d="M343.5,448 L353,444 L379,465 L366,474 Z" fill="#a9acad"/>
<path d="M346,449 L353,445.5 L377.5,465.5 L372,469 Z" fill="#cfd1d2"/>
<path d="M344,452 L350,457 L362,472 L366,474 L358,462 Z" fill="#797c7d"/>
<path d="M365,471 l3,4 l3,-1 l-2,-4z" fill="#8d9091"/>
</g>

<!-- ============ PLATE 4 ============ -->
<g id="plate4">
<!-- legs -->
<path d="M416,273 L423,277.5 L413.5,294.5 C413,298 409,299 407.5,296.5 C406.5,294 407.5,291.5 409.5,291 Z" fill="#474749"/>
<circle cx="410.3" cy="295" r="1.2" fill="#d8d8d8"/>
<path d="M487.5,324.7 L499,332.5 L482,346 L479,349.5 C477,350.5 475,349 475.3,347 L476,343 Z" fill="#474749"/>
<path d="M489,326.5 L496,331 L481,343.5 Z" fill="#67676a"/>
<circle cx="477.5" cy="347.6" r="1.1" fill="#d8d8d8"/>
<!-- hook -->
<path d="M479.5,227.5 C479,223.5 484,222.5 484.5,226.5 L486,231 L481,229 Z" fill="none" stroke="#333" stroke-width="1.2"/>
<!-- silhouette (sides) -->
<path d="M467.5,227.5 L480,226.3 L486.3,231.3 L495,236.3 L567.5,275 L572.5,278.8 L572,283.8 L555,295 L535,297.5 L520,302.5 L514.5,308.8 L517.5,315 L526.3,322.5 L525,328.8 L515,334.5 L500,332.5 L487.5,325 L435,292.5 L430,282.5 L405,270 L402.5,263.8 L420,245 L425,242 L437.5,242 L443.8,244.5 L452.5,241.3 L462.5,231.3 Z" fill="#343435" stroke="#2c2c2d" stroke-width="1" stroke-linejoin="round"/>
<!-- top surface -->
<path d="M467.5,228.5 L480,227.3 L495,237 L565.5,274.5 L567.5,277.5 L545,289.5 L530,292.5 L517,298 L510.5,306 L513,313.5 L520.5,320.5 L519.5,325.5 L512,328.5 L500.5,326 L439,287 L433.5,277 L406.5,264.5 L421,246.5 L426,243.3 L437,243.3 L444,246 L453.5,242.5 L463,232.5 Z" fill="url(#gPlate)"/>
<!-- edge highlight front-left -->
<path d="M406.5,264.5 L433.5,277 L439,287 L500.5,326 L512,328.5" fill="none" stroke="#626263" stroke-width="1" opacity=".7"/>
<path d="M545,289.5 L567.5,277.5 L571,281 L553,292.5 Z" fill="#222224"/>
<path d="M547,291 L569,279.5" stroke="#5c5c5e" stroke-width=".9" fill="none"/>
<!-- bosses -->
<g fill="#333334" stroke="#6a6a6b" stroke-width=".9">
<ellipse cx="487.5" cy="247.5" rx="3.2" ry="2.3"/><ellipse cx="457" cy="268.8" rx="3.2" ry="2.3"/><ellipse cx="524" cy="268" rx="3.2" ry="2.3"/><ellipse cx="495.8" cy="289.5" rx="3.2" ry="2.3"/>
</g>
</g>

<!-- ============ PIPE 1 ============ -->
<g id="clamp2"><ellipse cx="716" cy="192.5" rx="18.6" ry="13.2" transform="rotate(6 716 192.5)" fill="none" stroke="#555" stroke-width="1.8"/>
<path d="M696.5,184.5 L695.5,179.5 L700,177 L702.5,181" fill="#aaa" stroke="#555" stroke-width="1.2"/>
</g>
<g id="pipe1">
<!-- bracket tab -->
<path d="M695,128.5 L704,133.5 L700.5,147 L705.5,150.5 L701.5,154 L686,146.5 L684.5,139.5 Z" fill="#353537"/>
<path d="M690,138 L697,133 L699,136 L696.5,146 L690.5,143 Z" fill="#1d1d1f"/>
<path d="M686,146.5 L701.5,154" stroke="#5a5a5c" stroke-width="1" fill="none"/>
<!-- lugs behind cap -->
<path d="M571,73.5 l5,-2 l4,3 l-1,5 l-6,1 z" fill="#2e2e30"/>
<path d="M575,84 l6,-1 l10,5 l5,6 l-2,3 l-9,-1 l-9,-6 z" fill="#29292b"/>
<!-- body silhouette -->
<path d="M574.3,68 L577,58.5 L584,50.5 L592,47.5 L600,45.2 L601,43.8 L604,44 L606.5,46.5 L611,49 L620,53.6 L632.9,60 L634.5,57.3 L639.5,58.5 L641,64.8 L660,75.5 L671,81.7 L706.5,101.5 L714,105.7 L727,111.5 C733,115 740,121 744,129 C747,136 748,146 747.5,155 C747,164 743,172 740,174 C736,179 729,184 722.8,184 C716,184 708,179 704.6,174 C702,170 702,162 703.5,157 C706,152 708.5,148 708,144 C708,140 707.5,137 706.5,134.7 L693.6,126.7 L671,117.6 L645.4,107.3 L640,109.5 L631,109 L622,104 L614,98 L607,95 L595.7,96.4 L590,93.5 L581.4,89.3 L575,83 L572.8,76 Z" fill="url(#gPipe1)"/>
<!-- cap region -->
<path d="M574.3,68 L577,58.5 L584,50.5 L592,47.5 L600,45.2 L606.5,46.5 C599,54 596,74 601,95 L595.7,96.4 L590,93.5 L581.4,89.3 L575,83 L572.8,76 Z" fill="#2c2c2e"/>
<path d="M592,48 C586,56 583.5,72 588,91" fill="none" stroke="#4c4c4e" stroke-width="1.8"/>
<path d="M585,51 C580,58 578,70 581,85" fill="none" stroke="#3e3e40" stroke-width="2.5"/>
<path d="M606,47 C599.5,55 597,75 601.5,95" fill="none" stroke="#1b1b1d" stroke-width="2"/>
<path d="M610,49.5 C603.5,58 601.5,77 605.5,94.5" fill="none" stroke="#555557" stroke-width="1.2"/>
<!-- clip middle -->
<path d="M611,76 l5,-5 l7,1 l3,6 l-3,7 l3,9 l8,5 l6,0 l-1,4 l-8,-1 l-9,-5 l-8,-6 l-3,-10 z" fill="#2a2a2c"/>
<path d="M616,73 l5,1 l2,5 l-3,5 l-4,-2 z" fill="#48484a"/>
<!-- top highlight -->
<path d="M612,54 L640,68.5 L671,85.5 L706,105 L724,114.5" fill="none" stroke="#58585b" stroke-width="3.2" filter="url(#blur1)" opacity=".8"/>
<!-- elbow bellow -->
<path d="M710,119 C720,111 738,116 744,131 C748,142 748,152 746,160 L708,150 C710,140 707,128 710,119 Z" fill="#3e3e40"/>
<g fill="none" stroke="#262628" stroke-width="1.1" opacity=".9">
<path d="M711,124 C721,117 736,121 743,134"/><path d="M710.5,130 C721,123 737,127 745,141"/><path d="M710,136 C720,129 737,133 746.5,148"/><path d="M709.5,142 C719,135 736,139 747,154"/>
</g>
<g fill="none" stroke="#59595c" stroke-width="1" opacity=".9">
<path d="M711,127 C721,120 736.5,124 744,137.5"/><path d="M710.5,133 C720.5,126 737,130 746,144.5"/><path d="M710,139 C719.5,132 736.5,136 747,151"/>
</g>
<!-- light band (upper half of ellipse) -->
<path d="M709.5,151 C709.5,143 718,139.5 728,140.5 C738,141.5 745.5,147 745.5,154" fill="none" stroke="#96989a" stroke-width="2.6"/>
<path d="M708.5,155 C708.5,147 717,143.5 727.5,144.5 C738,145.5 745,151 745,158" fill="none" stroke="#1d1d1f" stroke-width="2.4"/>
<!-- collar + opening -->
<ellipse cx="723.5" cy="165.5" rx="19.5" ry="12" transform="rotate(20 723.5 165.5)" fill="#2b2b2d"/>
<ellipse cx="723" cy="165" rx="17.5" ry="9.6" transform="rotate(20 723 165)" fill="none" stroke="#5a5a5d" stroke-width="1.6"/>
<ellipse cx="723" cy="165.5" rx="14.5" ry="7.6" transform="rotate(20 723 165.5)" fill="#414144"/>
<ellipse cx="723.5" cy="166" rx="11.5" ry="5.6" transform="rotate(20 723.5 166)" fill="#262628"/>
<path d="M704,170 C707,179 719,186 731,182.5" fill="none" stroke="#4e4e51" stroke-width="1.5"/>
<path d="M703.5,163 C704,172 716,181 730,179" fill="none" stroke="#19191b" stroke-width="1.5"/>
</g>

<!-- ============ FITTING 11 ============ -->
<g id="fit11">
<path d="M476.5,60.5 C475.8,56 480,54.2 486,55.8 L496.5,59 C499.5,60.5 501.5,63.5 501.5,66.5 L499,73.5 L487,72.5 L479,67.5 Z" fill="#3b3b3d"/>
<path d="M479,58 L496,62" stroke="#5e5e61" stroke-width="1.6" fill="none"/>
<path d="M478,65.5 L498,72" stroke="#29292b" stroke-width="1.4" fill="none"/>
<path d="M498,66.5 L517.5,75.5 C519.5,77 519.5,82 517,85 L497.5,77 Z" fill="#4c4d4f"/>
<path d="M502.5,68.8 L507,70.8 L505,80.2 L500.5,78.4 Z" fill="#8f9092"/>
<path d="M507,70.8 L510.5,72.4 L508.5,81.8 L505,80.2 Z" fill="#6e6f71"/>
<path d="M500,68 L517,76" stroke="#707173" stroke-width="1.2" fill="none"/>
<path d="M511.5,73 L509.5,82.2 M515,74.5 L513.2,83.6" stroke="#2d2d2f" stroke-width="1.3" fill="none"/>
<path d="M518.2,79.5 l2.6,1 l-.5,2.4 l-2.6,-1 z" fill="#7c7c7e"/>
<path d="M486.8,52.8 l2.4,.5 l-.5,3.6 l-2.4,-.5z" fill="#555557"/>
</g>
</g>

<!-- lines -->
<g id="lines">
<!-- solid brackets / leaders -->
<path class="ln" d="M268,79.5 H65.5 V305"/>
<path class="ln" d="M34,197.3 H170"/>
<path class="ln" d="M323,270.5 H289 V481 H317.5"/>
<path class="ln" d="M260,376.5 H355"/>
<path class="ln" d="M478,176 V198.5 M443,243 V198.5 H512 V213.5"/>
<path class="ln" d="M511,23 V44.3 M488,54 V44.3 H534 V61.5"/>
<path class="ln" d="M557.5,34 H764 V218 H597.5 L557.5,148 Z"/>
<path class="ln" d="M660.5,218 V250"/>
<path class="ln" d="M649.4,135.9 H660"/>
<path class="ln" d="M676,189.5 H694"/>
<path class="ln" d="M351.2,34.8 V44.8"/>
<path class="ln" d="M175.6,326 L177,314"/>
<path class="ln" d="M76,312 L93,308.5"/>
<path class="ln" d="M458.5,339 L475.5,346.2"/>
<path class="ln" d="M341.5,279 L349.6,287.8"/>
<path class="ln" d="M319,487 L305,496.5"/>
<path class="ln" d="M521.5,69.5 L501,64.6" style="stroke-dasharray:9 2;stroke-width:1.8;stroke:#111"/>
<!-- dash-dot lines -->
<path class="dd" d="M352,9.5 L582,139"/>
<path class="dd" d="M582,139 L640.6,105.6"/>
<path class="dd" d="M352,9.5 L305,36"/>
<path class="dd" d="M305,36 L337,54"/><path class="ln" d="M347.7,60.5 L374,75.5"/>
<path class="dd" d="M273,67 L270,58.8 H310 L365,181 H420.5 L409.5,154"/>
<path class="dd" d="M521.5,221 L541.4,214 V105.8 L580,93"/>
<path class="ds" d="M543.5,75.8 L575,83.8"/>
<path class="dd" d="M644,20 L658,28 L619,52"/>
<path class="dd" d="M743.5,25 L713.75,105"/>
<path class="dd" d="M718.75,185 L697,282 H620.75 L615.5,299"/>
<path class="ln" d="M624.4,108.8 L635.6,136.9 M639.4,145.6 L643.5,155" style="stroke-dasharray:14 2"/>
<path class="dd" style="stroke-dasharray:13 2 2 2" d="M55.5,316.4 L39.3,319.8 L102.7,355.9 L84.3,360.7"/>
<path class="ds" d="M209.8,147 L251,186"/>
<path class="ln" d="M283.8,88.8 L293.8,109.8" style="stroke-dasharray:6 1.2"/>
<path class="ds" d="M327,262.5 L320,254"/>
<path class="ds" d="M336,475 L353,463"/>
<path class="ds" d="M501.5,226.5 L490,230"/>
<!-- white screw indicators -->
<g fill="none" stroke-linecap="butt">
<path d="M579.6,92.5 L609,85.4" stroke="#111" stroke-width="3.2"/><path d="M580.5,92.3 L608,85.6" stroke="#fff" stroke-width="1.3"/>
<path d="M625,97 L639.5,105" stroke="#111" stroke-width="3.2"/><path d="M626,97.5 L638.5,104.5" stroke="#fff" stroke-width="1.3"/>
<path d="M573,82 L582,86" stroke="#111" stroke-width="3.2"/><path d="M574,82.4 L581,85.6" stroke="#fff" stroke-width="1.3"/>
<path d="M619,52 L631,58.6" stroke="#111" stroke-width="3.2"/><path d="M620,52.5 L630,58" stroke="#fff" stroke-width="1.3"/>
<path d="M713.75,105 L698.75,147.5" stroke="#111" stroke-width="3.2"/><path d="M713.4,106 L699.1,146.5" stroke="#fff" stroke-width="1.3"/>
<path d="M723,165 L718.75,185" stroke="#111" stroke-width="3.2"/><path d="M722.8,166 L719,184" stroke="#fff" stroke-width="1.3"/>
<path d="M220.5,158.6 L241,179" stroke="#222" stroke-width="2.6"/><path d="M221.3,159.4 L240.2,178.2" stroke="#fff" stroke-width="1"/>
<path d="M179,303 L182,293" stroke="#222" stroke-width="2.6"/><path d="M179.3,302 L181.7,294" stroke="#fff" stroke-width="1"/>
</g>
<!-- rings -->
<ellipse cx="347.7" cy="61.1" rx="8.6" ry="15.6" transform="rotate(33 347.7 61.1)" fill="none" stroke="#333" stroke-width="1.9"/>
<ellipse cx="636" cy="136.9" rx="10.8" ry="7.1" transform="rotate(-6 636 136.9)" fill="none" stroke="#333" stroke-width="1.7"/>
</g>

<!-- labels -->
<g id="labels">
<circle class="cb" cx="278.4" cy="78.6" r="10.25"/><text class="ct" x="278.4" y="83.19999999999999" textLength="7.6" lengthAdjust="spacingAndGlyphs">7</text>
<circle class="cb" cx="202.1" cy="140.3" r="10.25"/><text class="ct" x="202.1" y="144.9" textLength="15.2" lengthAdjust="spacingAndGlyphs">12</text>
<circle class="cb" cx="66.6" cy="315.3" r="10.25"/><text class="ct" x="66.6" y="319.90000000000003" textLength="7.6" lengthAdjust="spacingAndGlyphs">8</text>
<circle class="cb" cx="172.6" cy="337.3" r="10.25"/><text class="ct" x="172.6" y="341.90000000000003" textLength="7.6" lengthAdjust="spacingAndGlyphs">9</text>
<circle class="cb" cx="333" cy="270.6" r="10.25"/><text class="ct" x="333" y="275.20000000000005" textLength="7.6" lengthAdjust="spacingAndGlyphs">8</text>
<circle class="cb" cx="327.5" cy="481" r="10.25"/><text class="ct" x="327.5" y="485.6" textLength="7.6" lengthAdjust="spacingAndGlyphs">8</text>
<circle class="cb" cx="511.5" cy="224" r="10.25"/><text class="ct" x="511.5" y="228.6" textLength="7.6" lengthAdjust="spacingAndGlyphs">5</text>
<circle class="cb" cx="448" cy="334.5" r="10.25"/><text class="ct" x="448" y="339.1" textLength="7.6" lengthAdjust="spacingAndGlyphs">3</text>
<circle class="cb" cx="533.2" cy="72.2" r="10.25"/><text class="ct" x="533.2" y="76.8" textLength="15.2" lengthAdjust="spacingAndGlyphs">13</text>
<circle class="cb" cx="633.75" cy="15.5" r="10.25"/><text class="ct" x="633.75" y="20.1" textLength="15.2" lengthAdjust="spacingAndGlyphs">16</text>
<circle class="cb" cx="748" cy="15" r="10.25"/><text class="ct" x="748" y="19.6" textLength="7.6" lengthAdjust="spacingAndGlyphs">3</text>
<text class="lb" x="22.6" y="204" textLength="10.7" lengthAdjust="spacingAndGlyphs">6</text>
<text class="lb" x="342" y="31.3" textLength="20.1" lengthAdjust="spacingAndGlyphs">14</text>
<text class="lb" x="502" y="20" textLength="18.8" lengthAdjust="spacingAndGlyphs">11</text>
<text class="lb" x="472.5" y="174" textLength="10.7" lengthAdjust="spacingAndGlyphs">4</text>
<text class="lb" x="240" y="381.2" textLength="20.1" lengthAdjust="spacingAndGlyphs">10</text>
<text class="lb" x="660.5" y="141.3" textLength="20.1" lengthAdjust="spacingAndGlyphs">15</text>
<text class="lb" x="662.5" y="195.3" textLength="10.7" lengthAdjust="spacingAndGlyphs">2</text>
<text class="lb" x="655.5" y="265.6" textLength="9.4" lengthAdjust="spacingAndGlyphs">1</text>
<text x="7" y="555" font-size="14.5" fill="#111" textLength="97" lengthAdjust="spacingAndGlyphs" stroke="#111" stroke-width="0.6">© 2018 BMW AG</text>
<text x="738.5" y="553.3" font-size="13.5" fill="#4a4a4a" textLength="42" lengthAdjust="spacingAndGlyphs">491123</text>
</g>

<!-- table -->
<g id="table">
<path class="tl" d="M721.75,346.75 H792 V538 H441.25 V490.5 H792 M721.75,346.75 V538 M721.75,394.5 H792 M721.75,442 H792 M511.25,490.5 V538 M581.25,490.5 V538 M651.75,490.5 V538"/>
<text class="tb" x="728.3" y="364.2" textLength="10.6" lengthAdjust="spacingAndGlyphs">7</text>
<text class="tb" x="727.5" y="412.3" textLength="10.6" lengthAdjust="spacingAndGlyphs">5</text>
<text class="tb" x="723.3" y="437.3" textLength="21.2" lengthAdjust="spacingAndGlyphs">13</text>
<text class="tb" x="727.5" y="460.2" textLength="10.6" lengthAdjust="spacingAndGlyphs">3</text>
<text class="tb" x="445" y="507.8" textLength="21.2" lengthAdjust="spacingAndGlyphs">16</text>
<text class="tb" x="515" y="507.8" textLength="21.2" lengthAdjust="spacingAndGlyphs">12</text>
<text class="tb" x="589.3" y="507.8" textLength="10.6" lengthAdjust="spacingAndGlyphs">9</text>
<text class="tb" x="657.3" y="507.8" textLength="10.6" lengthAdjust="spacingAndGlyphs">8</text>
<!-- rings -->
<ellipse cx="763.75" cy="373.75" rx="22.6" ry="13.3" fill="none" stroke="#3a3533" stroke-width="2.4"/>
<ellipse cx="763.75" cy="418" rx="18" ry="10" fill="none" stroke="#3a3533" stroke-width="2.2"/>
<ellipse cx="693.75" cy="514.5" rx="23.3" ry="14.3" fill="none" stroke="#3a3533" stroke-width="2.4"/>
<!-- arrow -->
<path d="M756.9,523.1 L786.9,505 V510.6 L765.6,528.2 V534.4 H727.75 V527.5 H765 Z" fill="#000"/>
<path d="M727.75,506.9 L736.9,511.5 L767.5,494.75 L786.9,505 L756.9,523.1 L765,527.5 H727.75 Z" fill="#fff" stroke="#000" stroke-width="1.2" stroke-linejoin="miter"/>
<!-- bolt 3 -->
<g>
<path d="M758.5,459 h11 v24.5 c0,3 -11,3 -11,0 z" fill="#8c8c8d"/>
<rect x="760" y="459" width="3.4" height="26" fill="#c6c6c6" opacity=".75"/>
<rect x="766.5" y="459" width="3" height="26" fill="#6c6c6d" opacity=".8"/>
<path d="M758.5,466h11M758.5,469.5h11M758.5,473h11M758.5,476.5h11M758.5,480h11M758.5,483.5h11" stroke="#747475" stroke-width=".9" opacity=".8"/>
<path d="M754,457 C754,451 758.5,448.3 764,448.3 C769.5,448.3 774,451 774,457 C774,462 754,462 754,457 Z" fill="#979798"/>
<ellipse cx="764" cy="453.6" rx="8.4" ry="4.4" fill="#b9b9ba"/>
<ellipse cx="764" cy="452.3" rx="3" ry="1.6" fill="#4e4e4f"/>
<path d="M754.5,458.5 C758,461.5 770,461.5 773.5,458.5" stroke="#6e6e6f" stroke-width="1.2" fill="none"/>
</g>
<!-- bolt 16 -->
<g>
<path d="M482.2,506 h8.5 v28.5 c0,2.6 -8.5,2.6 -8.5,0 z" fill="#979798"/>
<rect x="483.6" y="506" width="2.8" height="30" fill="#c4c4c5" opacity=".75"/>
<rect x="488.4" y="506" width="2.3" height="30" fill="#777778" opacity=".7"/>
<path d="M482.2,521h8.5M482.2,524h8.5M482.2,527h8.5M482.2,530h8.5M482.2,533h8.5" stroke="#7a7a7b" stroke-width=".9" opacity=".8"/>
<ellipse cx="485.8" cy="503.4" rx="9.6" ry="5.4" fill="#8e8e8f"/>
<ellipse cx="485.8" cy="502.6" rx="9.4" ry="4.8" fill="#b0b0b1"/>
<path d="M481.6,494.6 c0,-1.6 9,-1.6 9,0 l1,5.5 h-11 z" fill="#9a9a9b"/>
<ellipse cx="486.1" cy="494.6" rx="4.5" ry="1.5" fill="#bdbdbe"/>
<path d="M481.5,502 l4.3,-1.6 l4.6,1.6 l-4.5,2 z" fill="#e9e9e9"/>
</g>
<!-- bolt 12 -->
<g>
<path d="M548.4,515 h11.6 v11 l-3.2,5.8 h-5.2 l-3.2,-5.8 z" fill="#858586"/>
<path d="M550.6,515 h3.2 v15 h-3.2z" fill="#b2b2b3" opacity=".7"/>
<path d="M548.4,521h11.6M548.4,524.5h11.6M549,528h10.5" stroke="#6e6e6f" stroke-width=".9" opacity=".8"/>
<ellipse cx="554" cy="508.6" rx="15.8" ry="9" fill="#7c7c7d"/>
<ellipse cx="554" cy="506.4" rx="15.6" ry="8.4" fill="#9c9c9d"/>
<path d="M545,499.5 l6.5,-3.8 h8 l5,3.8 v6.4 l-6,4.2 h-7.5 l-6,-4.2 z" fill="#8b8b8c"/>
<path d="M545.3,499.6 l6.3,-3.6 h7.6 l4.8,3.6 l-5.6,3.6 h-7.3 z" fill="#b0b0b1"/>
</g>
<!-- bolt 9 -->
<g>
<path d="M620.5,503 h7.6 v31.5 c0,2.4 -7.6,2.4 -7.6,0 z" fill="#979798"/>
<rect x="622" y="503" width="2.5" height="33" fill="#c6c6c7" opacity=".75"/>
<rect x="626" y="503" width="2.1" height="33" fill="#777778" opacity=".7"/>
<path d="M620.5,521h7.6M620.5,524h7.6M620.5,527h7.6M620.5,530h7.6M620.5,533h7.6" stroke="#7a7a7b" stroke-width=".9" opacity=".8"/>
<path d="M617.5,496.6 l2,-2.6 h9.6 l2,2.6 v6 l-2,2 h-9.6 l-2,-2 z" fill="#9b9b9c"/>
<path d="M621.4,494 h3.6 v10.6 h-3.6z" fill="#c8c8c9" opacity=".8"/>
<path d="M617.5,496.6 l2,-2.6 h9.6 l2,2.6 z" fill="#b6b6b7"/>
</g>
</g>


</svg>
</body></html>
